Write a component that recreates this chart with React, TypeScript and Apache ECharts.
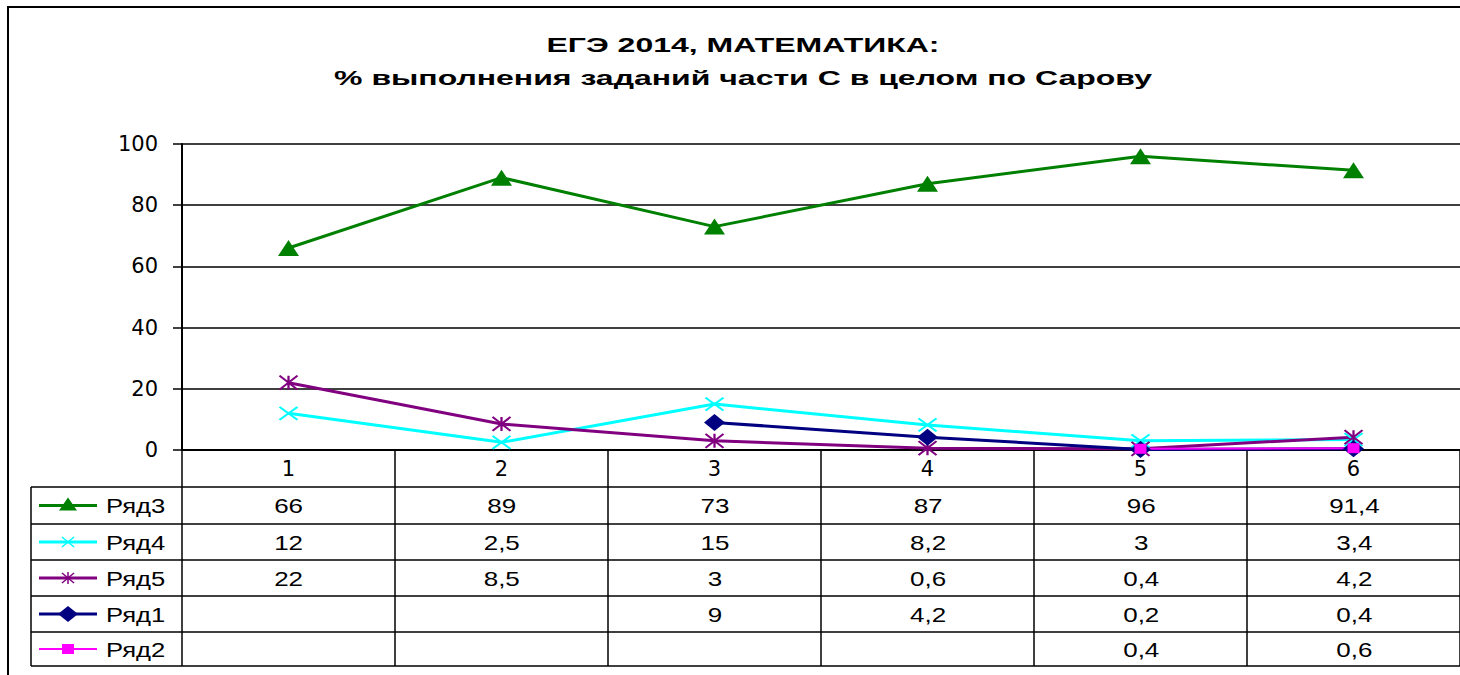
import React, { useEffect, useRef } from "react";
import * as echarts from "echarts";

const categories = ["1", "2", "3", "4", "5", "6"];
const yTicks = { min: 0, max: 100, interval: 20 };
const ryad3 = [66, 89, 73, 87, 96, 91.4];
const ryad4 = [12, 2.5, 15, 8.2, 3, 3.4];
const ryad5 = [22, 8.5, 3, 0.6, 0.4, 4.2];
const ryad1 = [null, null, 9, 4.2, 0.2, 0.4];
const ryad2 = [null, null, null, null, 0.4, 0.6];
const titleLines = ["ЕГЭ 2014, МАТЕМАТИКА:", "% выполнения заданий части С в целом по Сарову"];

const X_PATH = "path://M0,0L10,10M10,0L0,10";
const STAR_PATH = "path://M0,0L10,10M10,0L0,10M5,0L5,10";

const seriesDefs = [
  { name: "Ряд3", data: ryad3, color: "#008000", symbol: "triangle", size: [21, 16], width: 3, kind: "tri" },
  { name: "Ряд4", data: ryad4, color: "#00FFFF", symbol: X_PATH, size: [18, 13], width: 3, kind: "x" },
  { name: "Ряд5", data: ryad5, color: "#800080", symbol: STAR_PATH, size: [18, 14], width: 3, kind: "star" },
  { name: "Ряд1", data: ryad1, color: "#000080", symbol: "diamond", size: [21, 17], width: 3, kind: "dia" },
  { name: "Ряд2", data: ryad2, color: "#FF00FF", symbol: "rect", size: [12, 10], width: 2, kind: "sq" },
];

const FONT = "'Liberation Sans', Arial, sans-serif";

export default function App() {
  const ref = useRef<HTMLDivElement>(null);
  useEffect(() => {
    if (!ref.current) return;
    const chart = echarts.init(ref.current, undefined, { renderer: "svg" });

    const gridLeft = 182;
    const gridTop = 144;
    const gridBottomY = 450;
    const gridWidth = 1279;
    const cellW = gridWidth / categories.length;
    const rowLines = [487, 524, 560, 596, 632, 666];
    const tableLeft = 31;
    const tableRight = gridLeft + gridWidth;

    const graphics: any[] = [];
    graphics.push({
      type: "rect",
      shape: { x: 8, y: 7, width: 1480, height: 700 },
      style: { fill: "none", stroke: "#000", lineWidth: 2 },
      silent: true,
    });
    titleLines.forEach((t, i) => {
      graphics.push({
        type: "text",
        x: 743,
        y: 45 + i * 33,
        scaleX: 1.6,
        style: {
          text: t,
          x: 0,
          y: 0,
          fill: "#000",
          font: `bold 20px ${FONT}`,
          textAlign: "center",
          textVerticalAlign: "middle",
        },
      });
    });
    rowLines.forEach((y) => {
      graphics.push({
        type: "line",
        shape: { x1: tableLeft, y1: y, x2: tableRight, y2: y },
        style: { stroke: "#000", lineWidth: 1.5 },
      });
    });
    graphics.push({
      type: "line",
      shape: { x1: tableLeft, y1: rowLines[0], x2: tableLeft, y2: rowLines[rowLines.length - 1] },
      style: { stroke: "#000", lineWidth: 1.5 },
    });

    const fmt = (v: number | null) => (v === null || v === undefined ? "" : String(v).replace(".", ","));

    seriesDefs.forEach((s, r) => {
      const cy = (rowLines[r] + rowLines[r + 1]) / 2;
      graphics.push({
        type: "line",
        shape: { x1: 39, y1: cy, x2: 97, y2: cy },
        style: { stroke: s.color, lineWidth: s.width },
      });
      const mx = 68;
      if (s.kind === "tri") {
        graphics.push({
          type: "polygon",
          shape: { points: [[mx, cy - 8], [mx + 9, cy + 5], [mx - 9, cy + 5]] },
          style: { fill: s.color },
        });
      } else if (s.kind === "x" || s.kind === "star") {
        graphics.push({ type: "line", shape: { x1: mx - 6, y1: cy - 5, x2: mx + 6, y2: cy + 5 }, style: { stroke: s.color, lineWidth: 1.5 } });
        graphics.push({ type: "line", shape: { x1: mx + 6, y1: cy - 5, x2: mx - 6, y2: cy + 5 }, style: { stroke: s.color, lineWidth: 1.5 } });
        if (s.kind === "star") {
          graphics.push({ type: "line", shape: { x1: mx, y1: cy - 6, x2: mx, y2: cy + 6 }, style: { stroke: s.color, lineWidth: 1.5 } });
        }
      } else if (s.kind === "dia") {
        graphics.push({
          type: "polygon",
          shape: { points: [[mx, cy - 8], [mx + 10, cy], [mx, cy + 8], [mx - 10, cy]] },
          style: { fill: s.color },
        });
      } else {
        graphics.push({ type: "rect", shape: { x: mx - 6, y: cy - 5, width: 12, height: 10 }, style: { fill: s.color } });
      }
      graphics.push({
        type: "text",
        x: 106,
        y: cy + 1,
        scaleX: 1.28,
        style: { text: s.name, x: 0, y: 0, fill: "#000", font: `20px ${FONT}`, textAlign: "left", textVerticalAlign: "middle" },
      });
      s.data.forEach((v, i) => {
        const t = fmt(v as any);
        if (!t) return;
        graphics.push({
          type: "text",
          x: gridLeft + (i + 0.5) * cellW,
          y: cy + 1,
          scaleX: 1.3,
          style: { text: t, x: 0, y: 0, fill: "#000", font: `20px ${FONT}`, textAlign: "center", textVerticalAlign: "middle" },
        });
      });
    });

    chart.setOption({
      animation: false,
      backgroundColor: "#fff",
      grid: { left: gridLeft, top: gridTop, width: gridWidth, height: gridBottomY - gridTop, containLabel: false },
      xAxis: {
        type: "category",
        data: categories,
        boundaryGap: true,
        axisLine: { show: true, lineStyle: { color: "#000", width: 2 } },
        axisTick: { show: true, alignWithLabel: false, length: 216, lineStyle: { color: "#000", width: 1.5 } },
        axisLabel: { color: "#000", fontFamily: "'DejaVu Sans', sans-serif", fontSize: 21, margin: 8 },
        splitLine: { show: false },
      },
      yAxis: {
        type: "value",
        min: yTicks.min,
        max: yTicks.max,
        interval: yTicks.interval,
        axisLine: { show: true, lineStyle: { color: "#000", width: 2 } },
        axisTick: { show: true, inside: false, length: 9, lineStyle: { color: "#000", width: 1.5 } },
        axisLabel: { color: "#000", fontFamily: "'DejaVu Sans', sans-serif", fontSize: 21, margin: 24 },
        splitLine: { show: true, lineStyle: { color: "#000", width: 1.5 } },
      },
      series: seriesDefs.map((s) => ({
        name: s.name,
        type: "line",
        data: s.data,
        symbol: s.symbol,
        symbolSize: s.size,
        showSymbol: true,
        connectNulls: false,
        lineStyle: { color: s.color, width: s.width },
        itemStyle: {
          color: s.color,
          borderColor: s.color,
          borderWidth: s.kind === "x" || s.kind === "star" ? 2 : 0,
        },
        emphasis: { disabled: true },
      })),
      graphic: graphics,
    });
    return () => chart.dispose();
  }, []);
  return (
    <div
      ref={ref}
      style={{ position: "fixed", left: 0, top: 0, width: 1460, height: 675, background: "#fff" }}
    />
  );
}
